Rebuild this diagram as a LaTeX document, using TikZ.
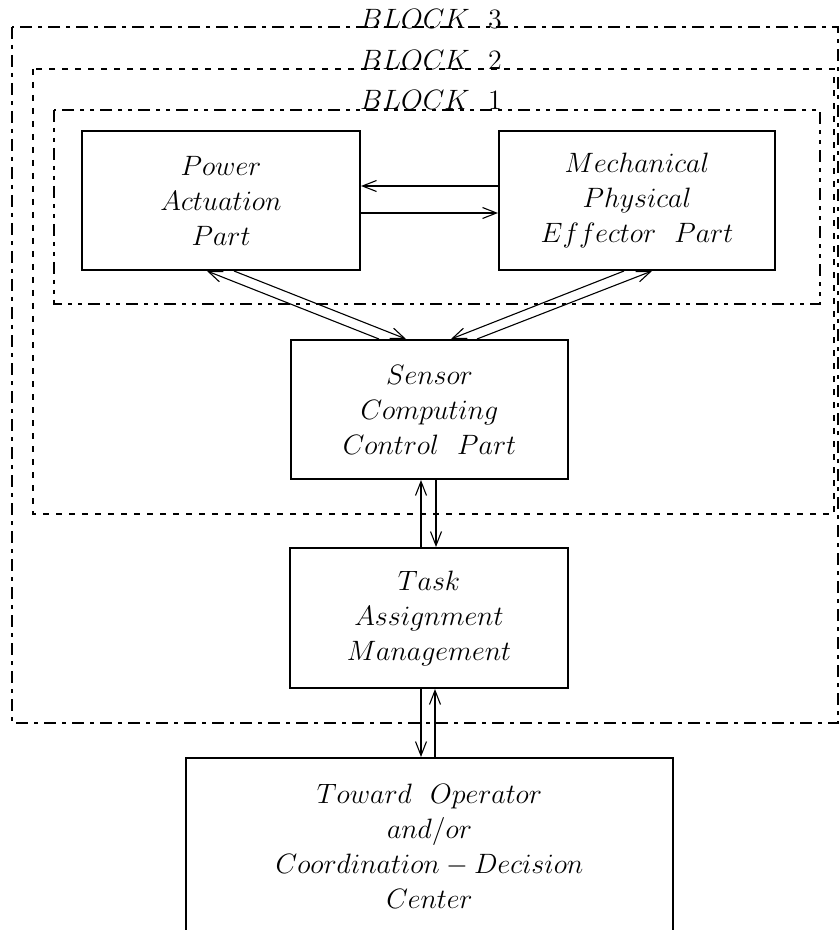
\RequirePackage{fix-cm}
\documentclass[tikz,border=0pt]{standalone}
\usetikzlibrary{arrows.meta,calc}
\begin{document}
\begin{tikzpicture}[x=0.5pt,y=-0.5pt,
  txt/.style={align=center, inner sep=0pt, font=\fontsize{14}{17.5}\selectfont},
  unit/.style={txt, draw, line width=1pt},
  flow/.style={line width=0.55pt, -{Straight Barb[length=7pt,width=5.5pt]}},
  frameA/.style={line width=1pt, dash pattern=on 6pt off 3pt on 2pt off 3pt},
  frameB/.style={line width=1pt, dash pattern=on 3pt off 3.5pt},
  frameC/.style={line width=1pt, dash pattern=on 6pt off 3pt on 2pt off 3pt on 2pt off 3pt},
  tag/.style={anchor=base, inner sep=0pt, font=\fontsize{14}{17.5}\selectfont}]
\clip (0,0) rectangle (839,930);

% nested subsystem frames
\draw[frameA] (12,27) rectangle (838,723);
\draw[frameB] (33,69) rectangle (834,514);
\draw[frameC] (54,110) rectangle (820,304);
\node[tag] (b3) at (431,29) {$BLOCK\ \ 3$};
\node[tag] (b2) at (431,70) {$BLOCK\ \ 2$};
\node[tag] (b1) at (431,110) {$BLOCK\ \ 1$};

% units
\node[unit, minimum width=139pt, minimum height=69.5pt] (power) at (221,200.5)
  {$Power$\\ $Actuation$\\ $Part$};
\node[unit, minimum width=138pt, minimum height=69.5pt] (mech) at (637,200.5)
  {$Mechanical$\\ $Physical$\\ $Effector\ \ Part$};
\node[unit, minimum width=138.5pt, minimum height=69.5pt] (sensor) at (429.5,409.5)
  {$Sensor$\\ $Computing$\\ $Control\ \ Part$};
\node[unit, minimum width=139pt, minimum height=70pt] (task) at (429,618)
  {$Task$\\ $Assignment$\\ $Management$};
\node[unit, minimum width=243.5pt, minimum height=88pt] (toward) at (429.5,846)
  {$Toward\ \ Operator$\\ $and/or$\\ $Coordination-Decision$\\ $Center$};

% power <-> mechanical
\draw[flow] ($(mech.north west)+(0,56)$) -- ($(power.north east)+(0,56)$);
\draw[flow] ($(power.north east)+(0,83)$) -- ($(mech.north west)+(0,83)$);

% power/mechanical <-> sensor
\draw[flow] ($(sensor.north west)+(89,0)$) -- ($(power.south west)+(126,0)$);
\draw[flow] ($(power.south west)+(153,0)$) -- ($(sensor.north west)+(116,0)$);
\draw[flow] ($(mech.south west)+(126,0)$) -- ($(sensor.north west)+(161,0)$);
\draw[flow] ($(sensor.north west)+(187,0)$) -- ($(mech.south west)+(154,0)$);

% sensor <-> task
\draw[flow] ($(task.north west)+(132,0)$) -- ($(sensor.south west)+(131,0)$);
\draw[flow] ($(sensor.south west)+(146,0)$) -- ($(task.north west)+(147,0)$);

% task <-> operator
\draw[flow] ($(task.south west)+(132,0)$) -- ($(toward.north west)+(236,0)$);
\draw[flow] ($(toward.north west)+(250,0)$) -- ($(task.south west)+(146,0)$);
\end{tikzpicture}
\end{document}
